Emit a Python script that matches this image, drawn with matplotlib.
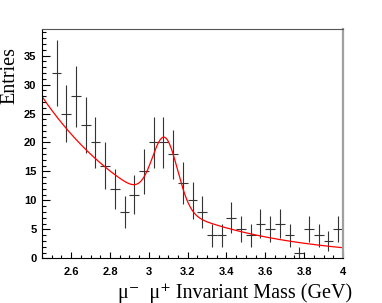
import numpy as np
import matplotlib
matplotlib.use('Agg')
import matplotlib.pyplot as plt
from matplotlib.ticker import MultipleLocator

# bin centres (GeV) and counts
mass = [2.525, 2.575, 2.625, 2.675, 2.725, 2.775, 2.825, 2.875, 2.925, 2.975,
        3.025, 3.075, 3.125, 3.175, 3.225, 3.275, 3.325, 3.375, 3.425, 3.475,
        3.525, 3.575, 3.625, 3.675, 3.725, 3.775, 3.825, 3.875, 3.925, 3.975]
entries = [32, 25, 28, 23, 20, 16, 12, 8, 11, 15,
           20, 20, 18, 13, 10, 8, 4, 4, 7, 5,
           4, 6, 5, 6, 4, 1, 5, 4, 3, 5]
bin_width = 0.05

# fit: exponential background + gaussian peak (J/psi)
bkg_const = 3.33
bkg_slope = -1.76
peak_amp = 11.7
peak_mean = 3.083
peak_sigma = 0.065

mass = np.array(mass)
entries = np.array(entries)
err = np.sqrt(entries)

fig = plt.figure(figsize=(3.82, 3.03), dpi=100)
ax = fig.add_axes([42/382, 1 - 258.3/303, 301/382, 229.3/303])

ax.errorbar(mass, entries, xerr=bin_width/2, yerr=err, fmt='none',
            ecolor='#333333', elinewidth=0.8, capsize=0)

xf = np.linspace(2.45, 4.0, 400)
yf = np.exp(bkg_const + bkg_slope*(xf - 2.45)) + \
    peak_amp*np.exp(-0.5*((xf - peak_mean)/peak_sigma)**2)
ax.plot(xf, yf, color='red', lw=0.9)

ax.set_xlim(2.45, 4.0)
ax.set_ylim(0, 39.6)
ax.xaxis.set_major_locator(MultipleLocator(0.2))
ax.xaxis.set_minor_locator(MultipleLocator(0.05))
ax.yaxis.set_major_locator(MultipleLocator(5))
ax.yaxis.set_minor_locator(MultipleLocator(1))
ax.set_xticks([2.6, 2.8, 3.0, 3.2, 3.4, 3.6, 3.8, 4.0])
ax.set_xticklabels(['2.6', '2.8', '3', '3.2', '3.4', '3.6', '3.8', '4'])
ax.tick_params(axis='x', which='major', direction='in', length=4.3, width=0.8, pad=6)
ax.tick_params(axis='x', which='minor', direction='in', length=2.2, width=0.8)
ax.tick_params(axis='y', which='major', direction='in', length=5.8, width=0.8, pad=4)
ax.tick_params(axis='y', which='minor', direction='in', length=3.2, width=0.8)
for lab in ax.get_xticklabels() + ax.get_yticklabels():
    lab.set_family('Liberation Sans')
    lab.set_weight('bold')
    lab.set_fontsize(8)

ax.spines['top'].set_color('#555555')
ax.spines['top'].set_linewidth(0.8)
ax.spines['right'].set_color('#a0a0a0')
ax.spines['right'].set_linewidth(1.6)
ax.spines['left'].set_linewidth(0.8)
ax.spines['bottom'].set_linewidth(0.8)

fig.text(352/382, 5/303, 'μ⁻  μ⁺ Invariant Mass (GeV)', ha='right', va='baseline',
         family=['Liberation Serif', 'DejaVu Serif'], fontsize=14.5)
fig.text(9.5/382, 1 - 76/303, 'Entries', rotation=90, ha='center', va='center',
         family=['Liberation Serif', 'DejaVu Serif'], fontsize=14.5)

fig.savefig('out.png', dpi=100)
